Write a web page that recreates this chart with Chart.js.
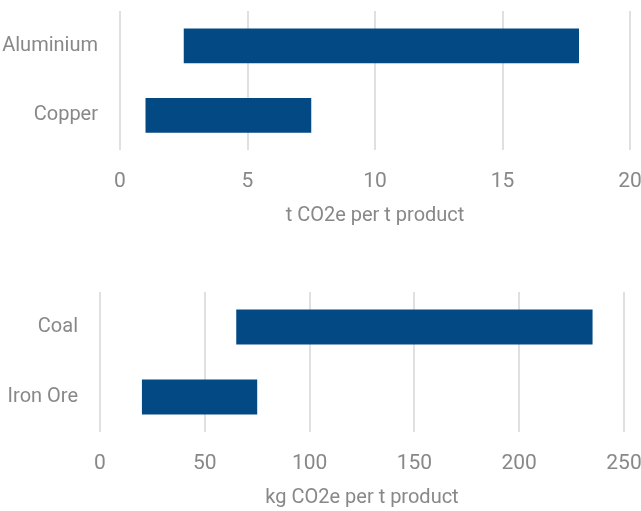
<!DOCTYPE html>
<html>
<head>
<meta charset="utf-8">
<script src="https://cdn.jsdelivr.net/npm/chart.js@4/dist/chart.umd.min.js"></script>
<style>
    body { margin: 0; background: #fff; }
    .box { position: absolute; left: 0; width: 641px; }
    #top { top: 0; height: 240px; }
    #bottom { top: 270px; height: 241px; }
</style>
</head>
<body>
<div class="box" id="top"><canvas id="metalsChart"></canvas></div>
<div class="box" id="bottom"><canvas id="miningChart"></canvas></div>
<script>
// metals, t CO2e per t product
const metalLabels = ['Aluminium', 'Copper'];
const metalLow = [2.5, 1];
const metalHigh = [18, 7.5];
const metalTicks = [0, 5, 10, 15, 20];

// mining, kg CO2e per t product
const miningLabels = ['Coal', 'Iron Ore'];
const miningLow = [65, 20];
const miningHigh = [235, 75];
const miningTicks = [0, 50, 100, 150, 200, 250];

const barColor = '#034a84';
const textColor = '#888888';
const fontFamily = "Roboto, sans-serif";

function makeChart(id, labels, low, high, ticks, title, yWidth, xHeight, pad, titleBottom) {
    const ctx = document.getElementById(id).getContext('2d');
    return new Chart(ctx, {
        type: 'bar',
        data: {
            labels: labels,
            datasets: [{
                data: low.map((v, i) => [v, high[i]]),
                backgroundColor: barColor,
                borderWidth: 0,
                categoryPercentage: 1,
                barPercentage: 0.5
            }]
        },
        options: {
            indexAxis: 'y',
            responsive: true,
            maintainAspectRatio: false,
            animation: false,
            layout: { padding: pad },
            plugins: { legend: { display: false }, tooltip: { enabled: false } },
            scales: {
                x: {
                    min: ticks[0],
                    max: ticks[ticks.length - 1],
                    afterBuildTicks: scale => { scale.ticks = ticks.map(v => ({ value: v })); },
                    afterFit: scale => {
                        scale.height = xHeight;
                        scale.paddingLeft = 0;
                        scale.paddingRight = 0;
                    },
                    grid: { color: '#e0e0e0', lineWidth: 2, drawTicks: false },
                    border: { display: false },
                    ticks: { color: textColor, font: { family: fontFamily, size: 21 }, padding: 19 },
                    title: {
                        display: true,
                        text: title,
                        color: textColor,
                        font: { family: fontFamily, size: 20 },
                        padding: { top: 0, bottom: titleBottom }
                    }
                },
                y: {
                    afterFit: scale => {
                        scale.width = yWidth;
                        scale.paddingTop = 0;
                        scale.paddingBottom = 0;
                    },
                    grid: { display: false },
                    border: { display: false },
                    ticks: { color: textColor, font: { family: fontFamily, size: 20 }, padding: 14 }
                }
            }
        }
    });
}

makeChart('metalsChart', metalLabels, metalLow, metalHigh, metalTicks,
    't CO2e per t product', 120, 90, { top: 11, right: 11, left: 0, bottom: 0 }, 12);
makeChart('miningChart', miningLabels, miningLow, miningHigh, miningTicks,
    'kg CO2e per t product', 100, 79, { top: 22, right: 17, left: 0, bottom: 0 }, 1);
</script>
</body>
</html>
